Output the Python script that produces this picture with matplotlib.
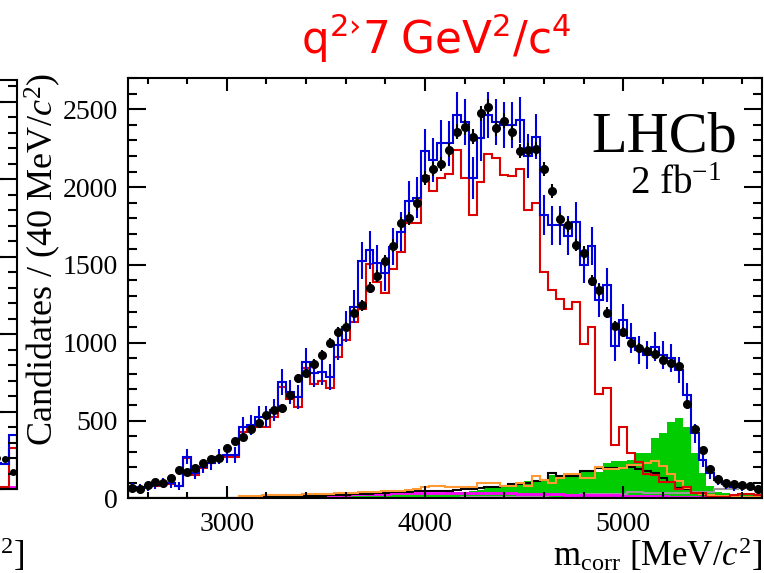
import numpy as np
import matplotlib
matplotlib.use("Agg")
import matplotlib.pyplot as plt

plt.rcParams['font.family'] = ['Liberation Serif', 'DejaVu Serif']
plt.rcParams['mathtext.fontset'] = 'custom'
plt.rcParams['mathtext.rm'] = 'Liberation Serif'
plt.rcParams['mathtext.it'] = 'Liberation Serif:italic'
plt.rcParams['mathtext.sf'] = 'DejaVu Sans'

# 40 MeV bins from 2500 to 5700
edges = np.arange(2500, 5701, 40)

data = [64, 58, 85, 107, 100, 132, 182, 171, 193, 229,
        250, 257, 321, 370, 396, 443, 486, 535, 567, 578,
        664, 771, 803, 863, 921, 996, 1067, 1099, 1193, 1242,
        1354, 1429, 1527, 1624, 1767, 1800, 1896, 2061, 2116, 2149,
        2239, 2356, 2384, 2324, 2474, 2517, 2378, 2427, 2352, 2232,
        2238, 2245, 2116, 1977, 1793, 1756, 1628, 1579, 1399, 1339,
        1193, 1107, 1071, 996, 964, 947, 927, 889, 868, 850,
        606, 443, 310, 186, 122, 96, 90, 85, 79, 58]

total = [71, 66, 75, 85, 100, 96, 77, 267, 161, 203,
         225, 267, 278, 278, 460, 471, 524, 524, 567, 749,
         685, 653, 878, 803, 814, 781, 985, 1103, 1231, 1527,
         1596, 1510, 1446, 1617, 1713, 1911, 1932, 2232, 2174, 2285,
         2282, 2463, 2420, 2057, 2314, 2463, 2420, 2399, 2399, 2431,
         2200, 2324, 1821, 1756, 1756, 1688, 1778, 1499, 1622, 1274,
         1371, 979, 1146, 1028, 953, 921, 974, 921, 900, 824,
         664, 418, 246, 161, 118, 90, 75, 75, 73, 60]

signal = [58, 55, 72, 80, 94, 90, 77, 257, 150, 193,
          225, 250, 264, 264, 428, 456, 460, 456, 524, 713,
          636, 589, 835, 735, 756, 707, 906, 1017, 1135, 1215,
          1506, 1392, 1317, 1472, 1585, 1767, 1767, 2071, 1975, 2057,
          2082, 2238, 2057, 1821, 2035, 2213, 2185, 2078, 2071, 2116,
          1853, 1900, 1456, 1339, 1279, 1215, 1264, 990, 1103, 668,
          711, 343, 460, 293, 231, 156, 150, 107, 107, 60,
          70, 32, 32, 10, 10, 10, 20, 30, 30, 20]

green = [0, 0, 0, 0, 0, 0, 0, 0, 0, 0,
         0, 0, 0, 0, 0, 0, 0, 0, 0, 0,
         2, 3, 4, 5, 6, 8, 10, 12, 14, 16,
         18, 20, 22, 25, 28, 30, 32, 34, 35, 36,
         38, 40, 42, 45, 55, 65, 70, 72, 95, 95,
         110, 110, 110, 150, 150, 150, 150, 170, 170, 170,
         229, 242, 242, 245, 293, 293, 386, 418, 492, 514,
         460, 293, 161, 79, 40, 35, 30, 25, 25, 20]

black = [0, 0, 0, 0, 0, 1, 1, 2, 2, 3,
         3, 4, 4, 5, 5, 6, 7, 8, 9, 10,
         11, 12, 14, 15, 17, 19, 21, 23, 25, 28,
         30, 32, 35, 38, 40, 42, 45, 48, 45, 48,
         50, 55, 58, 62, 66, 70, 75, 80, 90, 95,
         100, 110, 120, 165, 143, 143, 143, 175, 175, 193,
         193, 193, 193, 203, 190, 175, 165, 130, 107, 64,
         58, 32, 25, 20, 15, 12, 10, 10, 8, 8]

orange = [0, 0, 0, 0, 0, 0, 0, 0, 0, 0,
          0, 0, 0, 0, 15, 15, 15, 18, 18, 20,
          22, 24, 25, 26, 28, 30, 32, 34, 36, 38,
          40, 42, 44, 45, 50, 55, 60, 70, 80, 78,
          75, 70, 70, 75, 100, 96, 96, 79, 79, 99,
          79, 143, 118, 100, 128, 156, 156, 128, 128, 203,
          190, 190, 195, 214, 214, 225, 242, 210, 156, 113,
          64, 35, 25, 20, 15, 12, 10, 8, 8, 8]

magenta = [0, 0, 0, 0, 0, 0, 1, 1, 2, 2,
           3, 3, 4, 5, 6, 7, 8, 9, 10, 11,
           12, 14, 15, 17, 18, 20, 22, 23, 25, 26,
           28, 29, 30, 31, 32, 33, 34, 35, 36, 36,
           36, 36, 35, 35, 35, 34, 33, 32, 31, 30,
           29, 28, 27, 26, 25, 24, 23, 22, 21, 20,
           19, 18, 17, 16, 15, 14, 13, 12, 11, 10,
           9, 8, 6, 5, 5, 4, 4, 3, 3, 3]

gray = [0, 0, 0, 0, 0, 0, 0, 0, 0, 0,
        0, 0, 0, 0, 0, 0, 0, 0, 0, 0,
        0, 0, 0, 0, 0, 0, 0, 0, 0, 0,
        1, 1, 1, 2, 2, 2, 3, 3, 4, 4,
        5, 5, 6, 7, 8, 10, 10, 10, 10, 10,
        10, 10, 10, 20, 20, 22, 22, 25, 25, 25,
        25, 25, 25, 42, 42, 32, 32, 32, 32, 32,
        32, 42, 42, 42, 58, 58, 58, 65, 65, 65]

# neighbouring panel, only its right edge is visible
left_edges = [0, 1, 2, 3, 4]
left_data = [190, 200, 195, 110]
left_total = [170, 170, 160, 350]
left_signal = [15, 15, 15, 264]
left_magenta = [15, 15, 15, 15]

centers = 0.5 * (edges[:-1] + edges[1:])
data = np.array(data)
total = np.array(total)

fig = plt.figure(figsize=(7.64, 5.73), dpi=100)
W, H = 764, 573


def px_axes(l, t, r, b):
    return fig.add_axes([l / W, 1 - b / H, (r - l) / W, (b - t) / H])


def style(ax):
    ax.tick_params(which='both', direction='in', top=True, right=True,
                   width=1.5, labelsize=20)
    ax.tick_params(axis='y', which='major', length=13)
    ax.tick_params(axis='y', which='minor', length=6.5)
    ax.tick_params(axis='x', which='major', length=9, pad=10)
    ax.tick_params(axis='x', which='minor', length=4.5)
    ax.tick_params(axis='y', pad=7)
    for s in ax.spines.values():
        s.set_linewidth(1.5)


# left sliver panel
ax0 = px_axes(-14.4, 80, 17.3, 489)
ax0.stairs(left_magenta, left_edges, color='#ff00ff', lw=2)
ax0.stairs(left_signal, left_edges, color='#dd0000', lw=1.5)
ax0.stairs(left_total, left_edges, color='#0000dd', lw=1.5)
ax0.errorbar(np.arange(4) + 0.5, left_data, yerr=np.sqrt(left_data),
             fmt='o', color='black', ms=4, lw=1.2)
ax0.set_xlim(0, 4)
ax0.set_ylim(0, 2640)
ax0.set_yticks(np.arange(0, 2641, 500))
ax0.set_yticks(np.arange(0, 2641, 100), minor=True)
style(ax0)
ax0.tick_params(labelleft=False, labelbottom=False, bottom=False, top=False)

# main panel
ax = px_axes(127.7, 78.2, 762, 498.3)
ax.stairs(green, edges, fill=True, color='#00cc00', lw=0)
ax.stairs(gray, edges, color='#999999', lw=1.5)
ax.stairs(magenta, edges, color='#ff00ff', lw=2)
ax.stairs(black, edges, color='black', lw=1.5)
ax.stairs(orange, edges, color='#ff9933', lw=1.5)
ax.stairs(signal, edges, color='#dd0000', lw=1.5)
ax.stairs(total, edges, color='#0000dd', lw=1.5)
ax.errorbar(centers, total, yerr=3 * np.sqrt(total), fmt='none',
            ecolor='#0000dd', elinewidth=1.5)
ax.errorbar(centers, data, yerr=np.sqrt(data), fmt='o', color='black',
            ms=5.5, elinewidth=1.5, capsize=0)

ax.set_xlim(2500, 5700)
ax.set_ylim(0, 2700)
ax.set_xticks([3000, 4000, 5000])
ax.set_xticks(np.arange(2600, 5700, 200), minor=True)
ax.set_yticks(np.arange(0, 2501, 500))
ax.set_yticks(np.arange(0, 2701, 100), minor=True)
style(ax)

ax.text(0.96, 0.92, 'LHCb', transform=ax.transAxes, ha='right', va='top',
        fontsize=42)
ax.text(0.935, 0.79, r'2 fb$^{\rm {-}1}$', transform=ax.transAxes,
        ha='right', va='top', fontsize=28)

fig.text(43 / W, 1 - 73 / H, r'Candidates / (40 MeV/$c^{2}$)', rotation=90,
         ha='center', va='top', fontsize=26)
fig.text(762 / W, 1 - 555 / H, r'm$_{\rm corr}$ [MeV/$c^{2}$]',
         ha='right', va='center', fontsize=25)
fig.text(0.0, 1 - 555 / H, r'$^{2}$]', ha='left', va='center', fontsize=25)
fig.text(436 / W, 1 - 38 / H, '$\\mathsf{q^{2\u203a}7\\ GeV^{2}/c^{4}}$',
         ha='center', va='center', fontsize=31.5, color='#ff0000')

fig.savefig('out.png', dpi=100)
